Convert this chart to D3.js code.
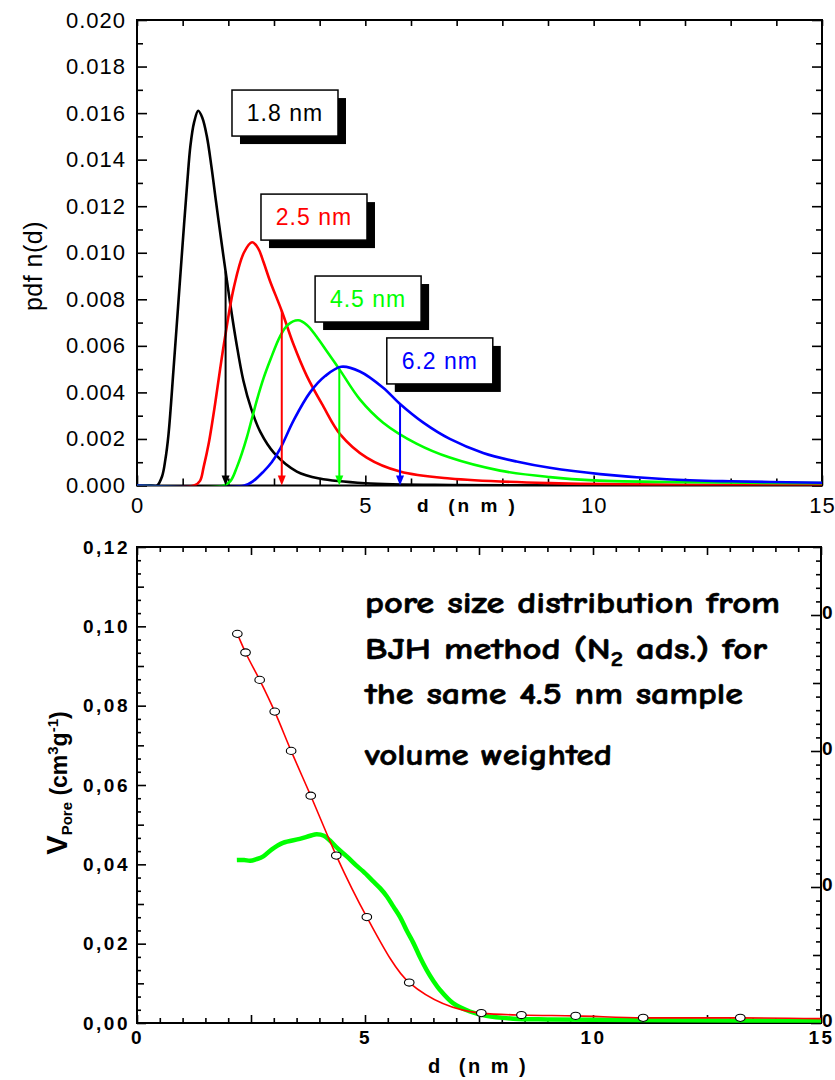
<!DOCTYPE html>
<html>
<head>
<meta charset="utf-8">
<script src="https://cdn.jsdelivr.net/npm/d3@7"></script>
<style>
  body { margin: 0; background: #fff; }
  svg { display: block; }
</style>
</head>
<body>
<svg id="chart" width="835" height="1080"></svg>
<script>
// ---------- Upper panel: pore size pdf n(d) for four samples ----------
const pdfBlack = [[0,0],[0.3,0],[0.44,0],[0.55,0.0004],[0.62,0.0011],[0.69,0.0022],[0.8,0.0050],[0.9,0.0077],[1.0,0.0104],[1.1,0.0130],[1.17,0.0146],[1.25,0.0156],[1.34,0.0161],[1.43,0.0158],[1.53,0.0150],[1.63,0.0137],[1.73,0.0122],[1.84,0.0106],[1.94,0.0092],[2.05,0.0077],[2.17,0.0062],[2.33,0.0045],[2.5,0.0033],[2.7,0.0023],[3.0,0.0014],[3.5,0.0006],[4.0,0.0003],[5.0,0.0001],[7,0.00002],[10,0],[15,0]];
const pdfRed = [[0,0],[1.25,0],[1.38,0.0002],[1.46,0.0008],[1.57,0.0018],[1.71,0.0035],[1.82,0.0050],[1.93,0.0064],[2.12,0.0085],[2.34,0.0100],[2.52,0.01045],[2.65,0.0102],[2.77,0.0096],[2.91,0.0088],[3.17,0.0075],[3.42,0.0061],[3.72,0.0047],[4.08,0.0034],[4.45,0.0022],[5.03,0.0012],[5.76,0.0006],[6.85,0.0003],[9.04,0.0001],[12,0.00003],[15,0.00001]];
const pdfGreen = [[0,0],[1.9,0],[2.05,0.0002],[2.19,0.0008],[2.3,0.0014],[2.41,0.0021],[2.52,0.0029],[2.63,0.0037],[2.77,0.0046],[2.92,0.0054],[3.13,0.0064],[3.3,0.0069],[3.53,0.0071],[3.72,0.0069],[3.93,0.0064],[4.18,0.0057],[4.43,0.0050],[4.88,0.0037],[5.39,0.0027],[6.12,0.0018],[6.85,0.0012],[7.95,0.00064],[9.04,0.00036],[10,0.00022],[12,0.00014],[15,0.0001]];
const pdfBlue = [[0,0],[2.35,0],[2.55,0.0002],[2.77,0.0006],[2.95,0.0010],[3.14,0.0016],[3.43,0.0028],[3.79,0.0040],[4.12,0.0047],[4.47,0.0051],[4.88,0.0049],[5.39,0.0042],[5.76,0.0035],[6.27,0.0027],[6.85,0.0020],[7.58,0.0014],[8.31,0.00103],[9.04,0.00076],[10.14,0.00049],[11.6,0.00027],[13,0.00018],[15,0.00012]];

const sampleLabels = ["1.8 nm", "2.5 nm", "4.5 nm", "6.2 nm"];
const sampleColors = ["#000000", "#ff0000", "#00ff00", "#0000ff"];
// arrow marking each distribution: d position and curve height
const arrowD = [1.94, 3.17, 4.43, 5.76];
const arrowV = [0.0092, 0.0075, 0.0050, 0.0035];

const topXTicks = [0, 5, 10, 15];
const topYTicks = [0, 0.002, 0.004, 0.006, 0.008, 0.010, 0.012, 0.014, 0.016, 0.018, 0.020];

// ---------- Lower panel: BJH pore volume ----------
const bjhD = [2.2, 2.38, 2.69, 3.02, 3.38, 3.81, 4.37, 5.04, 5.97, 7.55, 8.43, 9.62, 11.1, 13.23];
const bjhV = [0.0981, 0.0934, 0.0865, 0.0785, 0.0686, 0.0573, 0.0422, 0.0267, 0.0102, 0.0025, 0.0020, 0.0018, 0.0013, 0.0013];
const bjhLineEnd = [15, 0.0011];

const volD = [2.19, 2.35, 2.48, 2.62, 2.77, 2.95, 3.2, 3.57, 3.8, 3.94, 4.1, 4.23, 4.4, 4.6, 4.8, 4.96, 5.18, 5.33, 5.48, 5.62, 5.77, 5.92, 6.06, 6.21, 6.35, 6.5, 6.64, 6.93, 7.3, 7.66, 8.25, 9, 10, 12, 15];
const volV = [0.0411, 0.0411, 0.0409, 0.0413, 0.0420, 0.0437, 0.0454, 0.0464, 0.0472, 0.0476, 0.0472, 0.0460, 0.0440, 0.0420, 0.0398, 0.0382, 0.0357, 0.0340, 0.0319, 0.0294, 0.0267, 0.0232, 0.0202, 0.0165, 0.0134, 0.0106, 0.0084, 0.0050, 0.0029, 0.0018, 0.0011, 0.0009, 0.0008, 0.0007, 0.0006];

const botXTicks = [0, 5, 10, 15];
const botYTicks = [0, 0.02, 0.04, 0.06, 0.08, 0.10, 0.12];
const rightTicks = [0, 1, 2, 3];
const rightTickLabels = ["0", "0", "0", "0"];

const noteLines = ["pore size distribution from", "BJH method (N", "the same 4.5 nm sample", "volume weighted"];

// ---------- layout ----------
const svg = d3.select("#chart");
const ARIAL = "Arial, 'Liberation Sans', sans-serif";

const P1 = { left: 137, right: 822, top: 20, bottom: 485.5 };
const P2 = { left: 137, right: 821, top: 547, bottom: 1023 };

const x1 = d3.scaleLinear().domain([0, 15]).range([P1.left, P1.right]);
const y1 = d3.scaleLinear().domain([0, 0.020]).range([P1.bottom, P1.top]);
const x2 = d3.scaleLinear().domain([0, 15]).range([P2.left, P2.right]);
const y2 = d3.scaleLinear().domain([0, 0.12]).range([P2.bottom, P2.top]);
const y2r = d3.scaleLinear().domain([0, 3.5]).range([P2.bottom, P2.top]);

const near = (a, b) => Math.abs(a - b) < 1e-9;
const isMult = (v, s) => near(v / s, Math.round(v / s));

function addAxis(axis, tx, ty) {
  const g = svg.append("g").attr("transform", `translate(${tx},${ty})`).call(axis);
  g.select(".domain").remove();
  g.selectAll("line").attr("stroke", "#000").attr("stroke-width", 1.6);
  return g;
}

// ===== Upper panel =====
const clip1 = svg.append("clipPath").attr("id", "clip1");
clip1.append("rect").attr("x", P1.left).attr("y", P1.top)
  .attr("width", P1.right - P1.left).attr("height", P1.bottom - P1.top);

// ticks (all pointing inward)
const intTicks = d3.range(0, 16);
addAxis(d3.axisBottom(x1).tickValues(intTicks.filter(v => v % 5 !== 0)).tickSize(-7).tickFormat(""), 0, P1.bottom);
const xl1 = addAxis(d3.axisBottom(x1).tickValues(topXTicks).tickSize(-10).tickPadding(12).tickFormat(d3.format("d")), 0, P1.bottom);
addAxis(d3.axisTop(x1).tickValues(intTicks).tickSize(-6).tickFormat(""), 0, P1.top);

const halfY = d3.range(0, 0.0201, 0.001).filter(v => !isMult(v, 0.002));
addAxis(d3.axisLeft(y1).tickValues(halfY).tickSize(-6).tickFormat(""), P1.left, 0);
const yl1 = addAxis(d3.axisLeft(y1).tickValues(topYTicks).tickSize(-10).tickPadding(11).tickFormat(d3.format(".3f")), P1.left, 0);
addAxis(d3.axisRight(y1).tickValues(halfY).tickSize(-6).tickFormat(""), P1.right, 0);
addAxis(d3.axisRight(y1).tickValues(topYTicks).tickSize(-10).tickFormat(""), P1.right, 0);

[xl1, yl1].forEach(g => g.selectAll("text")
  .attr("font-family", ARIAL).attr("font-size", 22).attr("fill", "#000")
  .style("letter-spacing", "1px"));

svg.append("rect").attr("x", P1.left).attr("y", P1.top)
  .attr("width", P1.right - P1.left).attr("height", P1.bottom - P1.top)
  .attr("fill", "none").attr("stroke", "#000").attr("stroke-width", 2);

// curves
const line1 = d3.line().x(d => x1(d[0])).y(d => y1(d[1])).curve(d3.curveCatmullRom.alpha(0.5));
const curves = svg.append("g").attr("clip-path", "url(#clip1)");
[pdfBlack, pdfRed, pdfGreen, pdfBlue].forEach((s, i) => {
  curves.append("path").datum(s).attr("d", line1)
    .attr("fill", "none").attr("stroke", sampleColors[i]).attr("stroke-width", 2.6)
    .attr("stroke-linejoin", "round");
});

// arrows down to the axis
arrowD.forEach((d, i) => {
  const ax = x1(d), top = y1(arrowV[i]), base = y1(0);
  svg.append("line").attr("x1", ax).attr("x2", ax).attr("y1", top).attr("y2", base - 8)
    .attr("stroke", sampleColors[i]).attr("stroke-width", 2);
  svg.append("path")
    .attr("d", `M${ax - 4},${base - 10}L${ax + 4},${base - 10}L${ax},${base}Z`)
    .attr("fill", sampleColors[i]);
});

// sample label boxes with drop shadow
const boxAnchor = [[2.08, 0.01699], [2.715, 0.01252], [3.9, 0.0090], [5.47, 0.00634]];
const boxW = 106, boxH = 46, shadow = 8;
sampleLabels.forEach((lab, i) => {
  const bx = x1(boxAnchor[i][0]), by = y1(boxAnchor[i][1]);
  svg.append("rect").attr("x", bx + shadow).attr("y", by + shadow)
    .attr("width", boxW).attr("height", boxH).attr("fill", "#000");
  svg.append("rect").attr("x", bx).attr("y", by)
    .attr("width", boxW).attr("height", boxH)
    .attr("fill", "#fff").attr("stroke", "#000").attr("stroke-width", 1.5);
  svg.append("text").attr("x", bx + boxW / 2).attr("y", by + boxH / 2 + 8)
    .attr("text-anchor", "middle").attr("font-family", ARIAL).attr("font-size", 23)
    .style("letter-spacing", "1px")
    .attr("fill", sampleColors[i]).text(lab);
});

// axis titles
svg.append("text").attr("transform", `translate(42,266) rotate(-90)`)
  .attr("text-anchor", "middle").attr("font-family", ARIAL).attr("font-size", 25)
  .style("letter-spacing", "0.5px").text("pdf n(d)");
svg.append("text").attr("x", 417).attr("y", 512)
  .attr("font-family", ARIAL).attr("font-size", 19).attr("font-weight", "bold")
  .style("white-space", "pre").style("letter-spacing", "3px").text("d  (n m )");

// ===== Lower panel =====
const clip2 = svg.append("clipPath").attr("id", "clip2");
clip2.append("rect").attr("x", P2.left).attr("y", P2.top)
  .attr("width", P2.right - P2.left).attr("height", P2.bottom - P2.top);

const halfD = d3.range(0, 15.01, 0.5);
const minorD = halfD.filter(v => !isMult(v, 2.5));
const majorD = halfD.filter(v => isMult(v, 2.5));
addAxis(d3.axisBottom(x2).tickValues(minorD).tickSize(-5).tickFormat(""), 0, P2.bottom);
addAxis(d3.axisBottom(x2).tickValues(majorD).tickSize(-8).tickFormat(""), 0, P2.bottom);
const xl2 = addAxis(d3.axisBottom(x2).tickValues(botXTicks).tickSize(0).tickPadding(8).tickFormat(d3.format("d")), 0, P2.bottom);
addAxis(d3.axisTop(x2).tickValues(minorD).tickSize(-5).tickFormat(""), 0, P2.top);
addAxis(d3.axisTop(x2).tickValues(majorD).tickSize(-8).tickFormat(""), 0, P2.top);

const fineV = d3.range(0, 37).map(i => i * 0.02 / 6);
const minorV = fineV.filter(v => !isMult(v, 0.01));
const midV = fineV.filter(v => isMult(v, 0.01) && !isMult(v, 0.02));
const commaFmt = d3.formatLocale({ decimal: ",", thousands: ".", grouping: [3], currency: ["", ""] }).format(".2f");
addAxis(d3.axisLeft(y2).tickValues(minorV).tickSize(-4).tickFormat(""), P2.left, 0);
addAxis(d3.axisLeft(y2).tickValues(midV).tickSize(-7).tickFormat(""), P2.left, 0);
const yl2 = addAxis(d3.axisLeft(y2).tickValues(botYTicks).tickSize(-9).tickPadding(7).tickFormat(commaFmt), P2.left, 0);

const fineR = d3.range(0, 36).map(i => i * 0.1);
addAxis(d3.axisRight(y2r).tickValues(fineR.filter(v => !isMult(v, 0.5))).tickSize(-5).tickFormat(""), P2.right, 0);
addAxis(d3.axisRight(y2r).tickValues(fineR.filter(v => isMult(v, 0.5) && !isMult(v, 1))).tickSize(-8).tickFormat(""), P2.right, 0);
const yr2 = addAxis(d3.axisRight(y2r).tickValues(rightTicks).tickSize(-10).tickPadding(1)
  .tickFormat((d, i) => rightTickLabels[i]), P2.right, 0);

[xl2, yl2, yr2].forEach(g => g.selectAll("text")
  .attr("font-family", ARIAL).attr("font-size", 19).attr("font-weight", "bold").attr("fill", "#000")
  .style("letter-spacing", "2.5px"));
yr2.selectAll("text").style("letter-spacing", "0px").attr("dy", "0.2em");

svg.append("rect").attr("x", P2.left).attr("y", P2.top)
  .attr("width", P2.right - P2.left).attr("height", P2.bottom - P2.top)
  .attr("fill", "none").attr("stroke", "#000").attr("stroke-width", 2);

const plot2 = svg.append("g").attr("clip-path", "url(#clip2)");

// volume weighted distribution (thick green)
const volPts = volD.map((d, i) => [d, volV[i]]);
plot2.append("path").datum(volPts)
  .attr("d", d3.line().x(d => x2(d[0])).y(d => y2(d[1])).curve(d3.curveCatmullRom.alpha(0.5)))
  .attr("fill", "none").attr("stroke", "#00ff00").attr("stroke-width", 4.5)
  .attr("stroke-linejoin", "round");

// BJH points with smooth red line
const bjhPts = bjhD.map((d, i) => [d, bjhV[i]]);
plot2.append("path").datum(bjhPts.concat([bjhLineEnd]))
  .attr("d", d3.line().x(d => x2(d[0])).y(d => y2(d[1])).curve(d3.curveMonotoneX))
  .attr("fill", "none").attr("stroke", "#ff0000").attr("stroke-width", 1.6);
plot2.selectAll("ellipse.pt").data(bjhPts).join("ellipse").attr("class", "pt")
  .attr("cx", d => x2(d[0])).attr("cy", d => y2(d[1]))
  .attr("rx", 4.8).attr("ry", 3.6)
  .attr("fill", "#fff").attr("stroke", "#000").attr("stroke-width", 1.1);

// annotation text
const NOTE_FONT = "'Comic Sans MS', 'Comic Neue', 'DejaVu Sans', sans-serif";
const noteBase = [613, 659, 704, 765];
const noteWidth = [415, 402, 378, 247];
noteLines.forEach((t, i) => {
  const txt = svg.append("text").attr("x", 365).attr("y", noteBase[i])
    .attr("font-family", NOTE_FONT).attr("font-weight", "bold").attr("font-size", 30)
    .attr("textLength", noteWidth[i]).attr("lengthAdjust", "spacingAndGlyphs")
    .attr("fill", "#000").attr("stroke", "#000").attr("stroke-width", 0.6);
  if (i === 1) {
    txt.append("tspan").text(t);
    txt.append("tspan").attr("font-size", 20).attr("dy", 7).text("2");
    txt.append("tspan").attr("dy", -7).text(" ads.) for");
  } else {
    txt.text(t);
  }
});

// axis titles
const yt = svg.append("text")
  .attr("transform", `translate(67,783) rotate(-90)`)
  .attr("text-anchor", "middle").attr("font-family", ARIAL).attr("font-weight", "bold")
  .attr("font-size", 23).attr("fill", "#000");
yt.append("tspan").attr("font-size", 29).text("V");
yt.append("tspan").attr("font-size", 15).attr("dy", 5).text("Pore");
yt.append("tspan").attr("dy", -5).text(" (cm");
yt.append("tspan").attr("font-size", 15).attr("dy", -9).text("3");
yt.append("tspan").attr("dy", 9).text("g");
yt.append("tspan").attr("font-size", 15).attr("dy", -9).text("-1");
yt.append("tspan").attr("dy", 9).text(")");

svg.append("text").attr("x", 428).attr("y", 1073)
  .attr("font-family", ARIAL).attr("font-size", 20).attr("font-weight", "bold")
  .style("white-space", "pre").style("letter-spacing", "2.5px").text("d  (n m )");
</script>
</body>
</html>
